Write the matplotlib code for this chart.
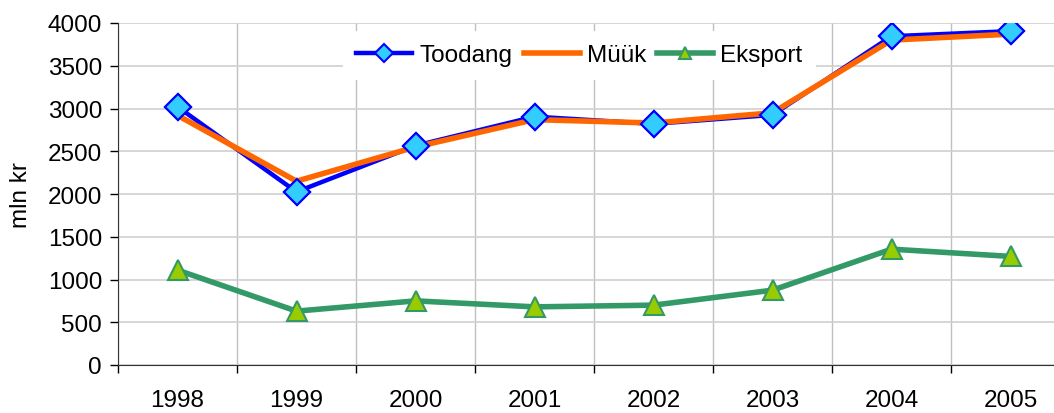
import numpy as np
import matplotlib.pyplot as plt

plt.rcParams['font.family'] = ['Liberation Sans', 'DejaVu Sans']

years = ['1998', '1999', '2000', '2001', '2002', '2003', '2004', '2005']
toodang = [3020, 2025, 2565, 2905, 2820, 2925, 3845, 3905]
myyk = [2920, 2150, 2550, 2870, 2830, 2950, 3800, 3870]
eksport = [1110, 630, 750, 680, 700, 875, 1355, 1270]

x = np.arange(len(years))
fs = 17.5

fig = plt.figure(figsize=(10.54, 4.14), dpi=100)
left = 118 / 1054
ax = fig.add_axes([left, 1 - 366 / 414, 1 - left, (366 - 24) / 414])

# lines first, markers on top
l1, = ax.plot(x, toodang, color='#0000FF', lw=3.2, zorder=3,
              marker='D', ms=13.5, mfc='#33CCFF', mec='#0000FF', mew=1.5, label='Toodang')
l2, = ax.plot(x, myyk, color='#FF6600', lw=4, zorder=3.5, label='Müük')
ax.plot(x, toodang, ls='none', marker='D', ms=13.5, mfc='#33CCFF', mec='#0000FF',
        mew=1.5, zorder=4)
l3, = ax.plot(x, eksport, color='#339966', lw=4, zorder=3,
              marker='^', ms=14, mfc='#99CC00', mec='#339966', mew=1.5, label='Eksport')

ax.set_yticks(np.arange(0, 4001, 500))

bounds = np.arange(len(years) + 1) - 0.5
ax.set_xticks(bounds)
ax.set_xticklabels([''] * len(bounds))
ax.set_xticks(x, minor=True)
ax.set_xticklabels(years, minor=True)
ax.tick_params(axis='x', which='minor', length=0, pad=17, labelsize=fs)
ax.tick_params(axis='x', which='major', length=5.5, width=1, direction='out')
ax.tick_params(axis='y', length=5.5, width=1, labelsize=fs, pad=6)

ax.set_ylim(0, 4000)
ax.set_xlim(-0.5, -0.5 + (1054 - 118) / 119)

ax.grid(axis='y', color='#D0D0D0', lw=1.2)
ax.grid(axis='x', which='major', color='#C0C0C0', lw=1)
ax.set_axisbelow(True)

for s in ['top', 'right']:
    ax.spines[s].set_visible(False)
ax.spines['left'].set_color('#333333')
ax.spines['bottom'].set_color('#333333')

ax.set_ylabel('mln kr', fontsize=fs, labelpad=11)

leg = ax.legend(handles=[l1, l2, l3], loc='center', bbox_to_anchor=(0.493, 0.905),
                ncol=3, frameon=True, fontsize=fs, handlelength=2.3, markerscale=0.65,
                columnspacing=0.45, handletextpad=0.3, borderpad=0.35)
leg.get_frame().set_edgecolor('none')
leg.get_frame().set_facecolor('white')
leg.get_frame().set_alpha(1)
leg.get_frame().set_boxstyle('square', pad=0.2)

fig.savefig('out.png', dpi=100)
